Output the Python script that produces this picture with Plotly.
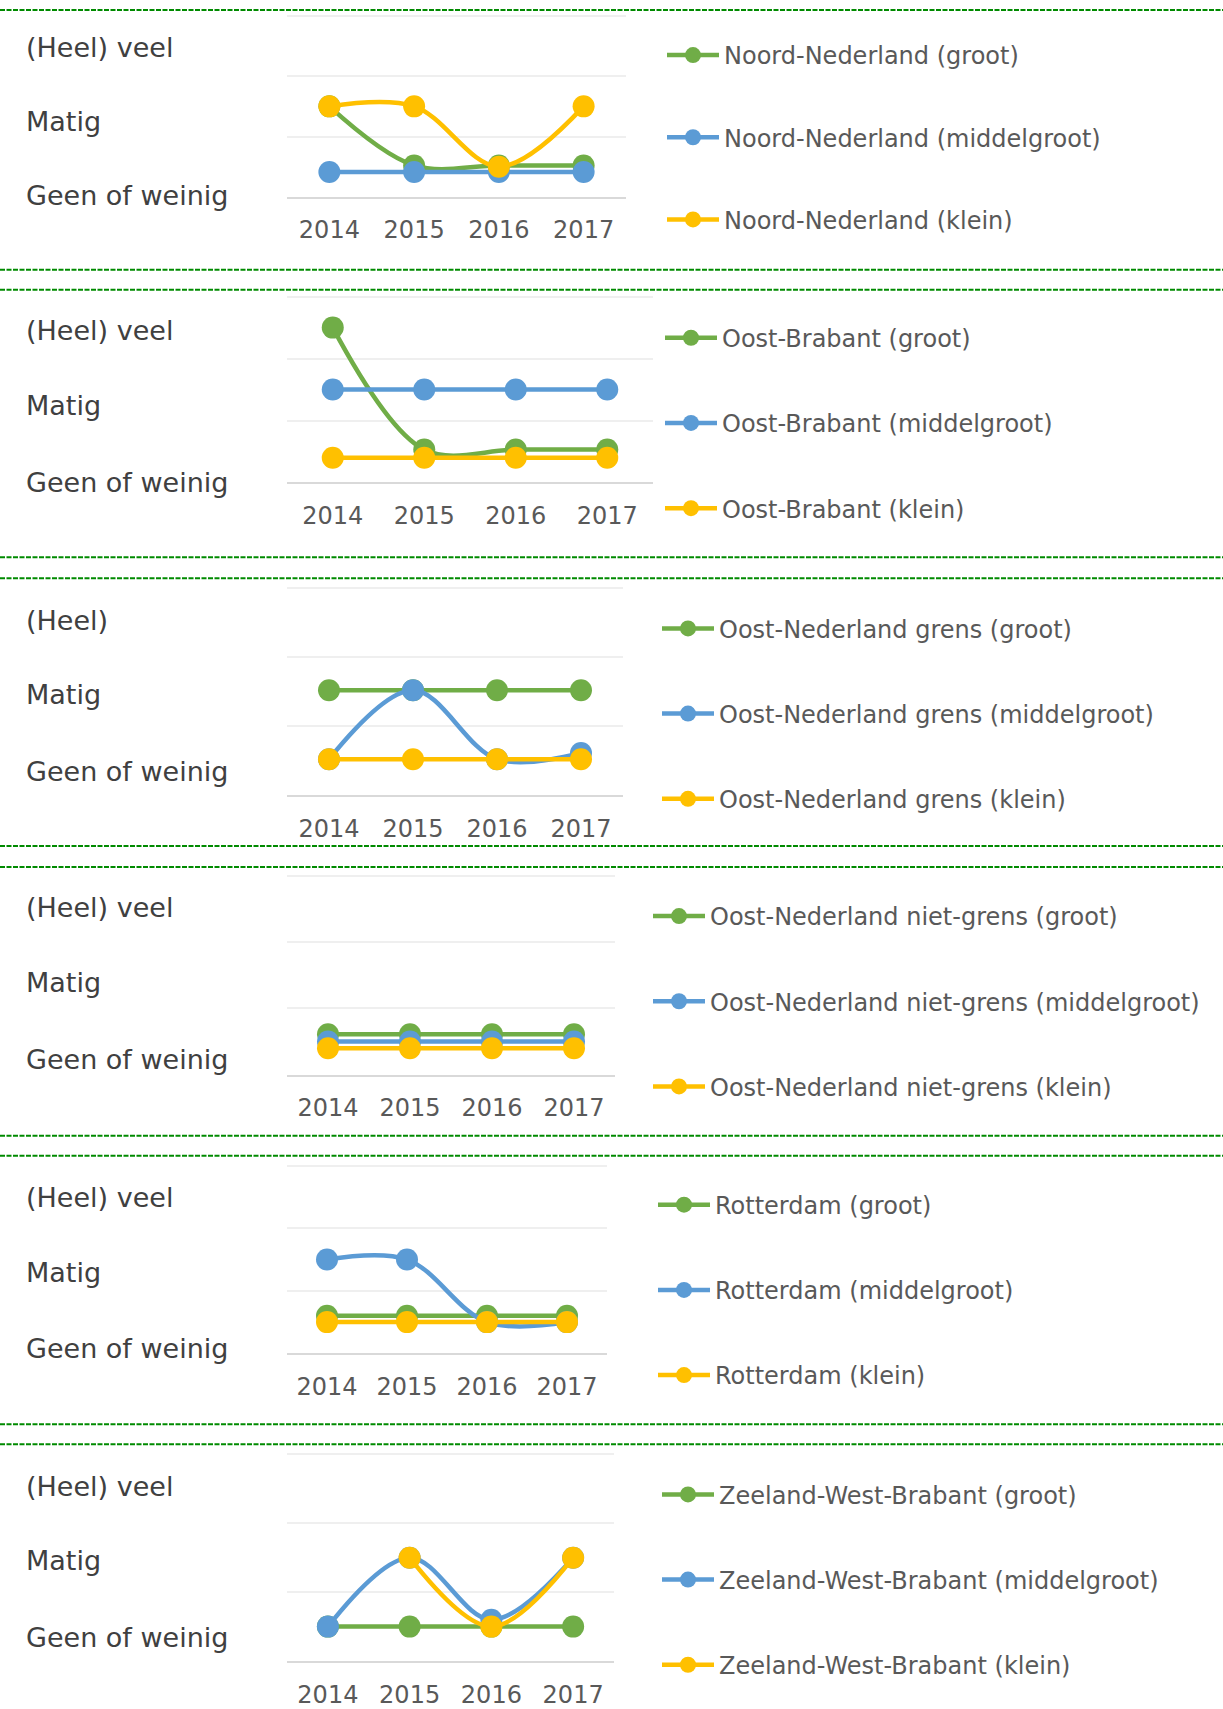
import plotly.graph_objects as go

W, H = 1223, 1709

years = ["2014", "2015", "2016", "2017"]
size_classes = ["groot", "middelgroot", "klein"]
regions = [
    "Noord-Nederland",
    "Oost-Brabant",
    "Oost-Nederland grens",
    "Oost-Nederland niet-grens",
    "Rotterdam",
    "Zeeland-West-Brabant",
]
level_labels = ["(Heel) veel", "Matig", "Geen of weinig"]
level_labels_grens = ["(Heel)", "Matig", "Geen of weinig"]

# score per region and size class (0 = geen/weinig ... 3 = heel veel)
noord_groot = [1.5, 0.52, 0.52, 0.52]
noord_middel = [0.41, 0.41, 0.41, 0.41]
noord_klein = [1.5, 1.5, 0.5, 1.5]

oostbrabant_groot = [2.5, 0.53, 0.53, 0.53]
oostbrabant_middel = [1.5, 1.5, 1.5, 1.5]
oostbrabant_klein = [0.4, 0.4, 0.4, 0.4]

oostnl_grens_groot = [1.52, 1.52, 1.52, 1.52]
oostnl_grens_middel = [0.52, 1.52, 0.52, 0.61]
oostnl_grens_klein = [0.52, 0.52, 0.52, 0.52]

oostnl_niet_groot = [0.61, 0.61, 0.61, 0.61]
oostnl_niet_middel = [0.5, 0.5, 0.5, 0.5]
oostnl_niet_klein = [0.4, 0.4, 0.4, 0.4]

rotterdam_groot = [0.6, 0.6, 0.6, 0.6]
rotterdam_middel = [1.5, 1.5, 0.5, 0.5]
rotterdam_klein = [0.5, 0.5, 0.5, 0.5]

zwb_groot = [0.5, 0.5, 0.5, 0.5]
zwb_middel = [0.5, 1.5, 0.6, 1.5]
zwb_klein = [None, 1.5, 0.5, 1.5]

series = [
    [noord_groot, noord_middel, noord_klein],
    [oostbrabant_groot, oostbrabant_middel, oostbrabant_klein],
    [oostnl_grens_groot, oostnl_grens_middel, oostnl_grens_klein],
    [oostnl_niet_groot, oostnl_niet_middel, oostnl_niet_klein],
    [rotterdam_groot, rotterdam_middel, rotterdam_klein],
    [zwb_groot, zwb_middel, zwb_klein],
]
panel_levels = [level_labels, level_labels, level_labels_grens,
                level_labels, level_labels, level_labels]

colors = ["#70AD47", "#5B9BD5", "#FFC000"]

Y_TOP = 3.03  # a little headroom so the top gridline is drawn

# panel geometry in pixels (top = gridline of value 3, bottom = axis line)
plot_top = [16, 297, 589, 877, 1167, 1456]
plot_bottom = [197, 483, 796, 1076, 1355, 1663]
plot_left = 287
plot_right = [626, 653, 623, 615, 607, 614]
label_rows = [
    [48, 122, 196],
    [331, 406, 483],
    [621, 695, 772],
    [909, 984, 1061],
    [1199, 1274, 1350],
    [1488, 1562, 1639],
]
legend_first = [53, 336, 627, 915, 1204, 1494]
legend_x = [670, 668, 665, 656, 661, 665]
legend_gap = [48, 51, 51, 51, 51, 51]
dash_lines = [10, 270, 290, 558, 579, 847, 868, 1137, 1157, 1426, 1446]


def py(v):
    return 1 - v / H


def px(v):
    return v / W


fig = go.Figure()
annotations = []
shapes = []

for i, region in enumerate(regions):
    n = "" if i == 0 else str(i + 1)
    xa, ya = "x" + n, "y" + n
    leg = "legend" + n
    unit = (plot_bottom[i] - plot_top[i]) / 3.0
    dom_top = plot_top[i] - (Y_TOP - 3) * unit
    for j, size in enumerate(size_classes):
        fig.add_trace(go.Scatter(
            x=years, y=series[i][j], xaxis=xa, yaxis=ya,
            name=f"{region} ({size})",
            mode="lines+markers",
            line=dict(color=colors[j], width=4.5, shape="spline", smoothing=1),
            marker=dict(color=colors[j], size=22),
            legend=leg, legendgroup=f"{region}-{size}",
            connectgaps=False,
        ))
    fig.update_layout({
        "xaxis" + n: dict(
            domain=[px(plot_left), px(plot_right[i])],
            anchor=ya, type="category", categoryorder="array",
            categoryarray=years, range=[-0.5, 3.5],
            showgrid=False, showline=True, linecolor="#d9d9d9", linewidth=1.5,
            ticks="outside", ticklen=11, tickcolor="rgba(0,0,0,0)",
            tickfont=dict(family="DejaVu Sans", size=24, color="#595959"),
            fixedrange=True,
        ),
        "yaxis" + n: dict(
            domain=[py(plot_bottom[i]), py(dom_top)],
            anchor=xa, range=[0, Y_TOP], dtick=1, tick0=0,
            showgrid=True, gridcolor="#efefef", gridwidth=1.5,
            zeroline=False, showline=False, showticklabels=False,
            fixedrange=True,
        ),
        leg: dict(
            x=px(legend_x[i] - 8), xanchor="left",
            y=py(legend_first[i] - 20), yanchor="top",
            font=dict(family="DejaVu Sans", size=24, color="#595959"),
            bgcolor="rgba(0,0,0,0)", borderwidth=0,
            itemwidth=52, tracegroupgap=legend_gap[i], traceorder="grouped",
            itemclick=False, itemdoubleclick=False,
        ),
    })
    for k, txt in enumerate(panel_levels[i]):
        annotations.append(dict(
            xref="paper", yref="paper", x=px(24), y=py(label_rows[i][k]),
            xanchor="left", yanchor="middle", showarrow=False, text=txt,
            font=dict(family="DejaVu Sans", size=27, color="#404040"),
        ))

for yv in dash_lines:
    shapes.append(dict(
        type="line", xref="paper", yref="paper", x0=0, x1=1,
        y0=py(yv), y1=py(yv),
        line=dict(color="#008a00", width=2, dash="5px,1.5px"),
    ))

fig.update_layout(
    width=W, height=H, autosize=False,
    margin=dict(l=0, r=0, t=0, b=0),
    paper_bgcolor="white", plot_bgcolor="white",
    showlegend=True,
    annotations=annotations, shapes=shapes,
)

fig.write_html("out.html")
